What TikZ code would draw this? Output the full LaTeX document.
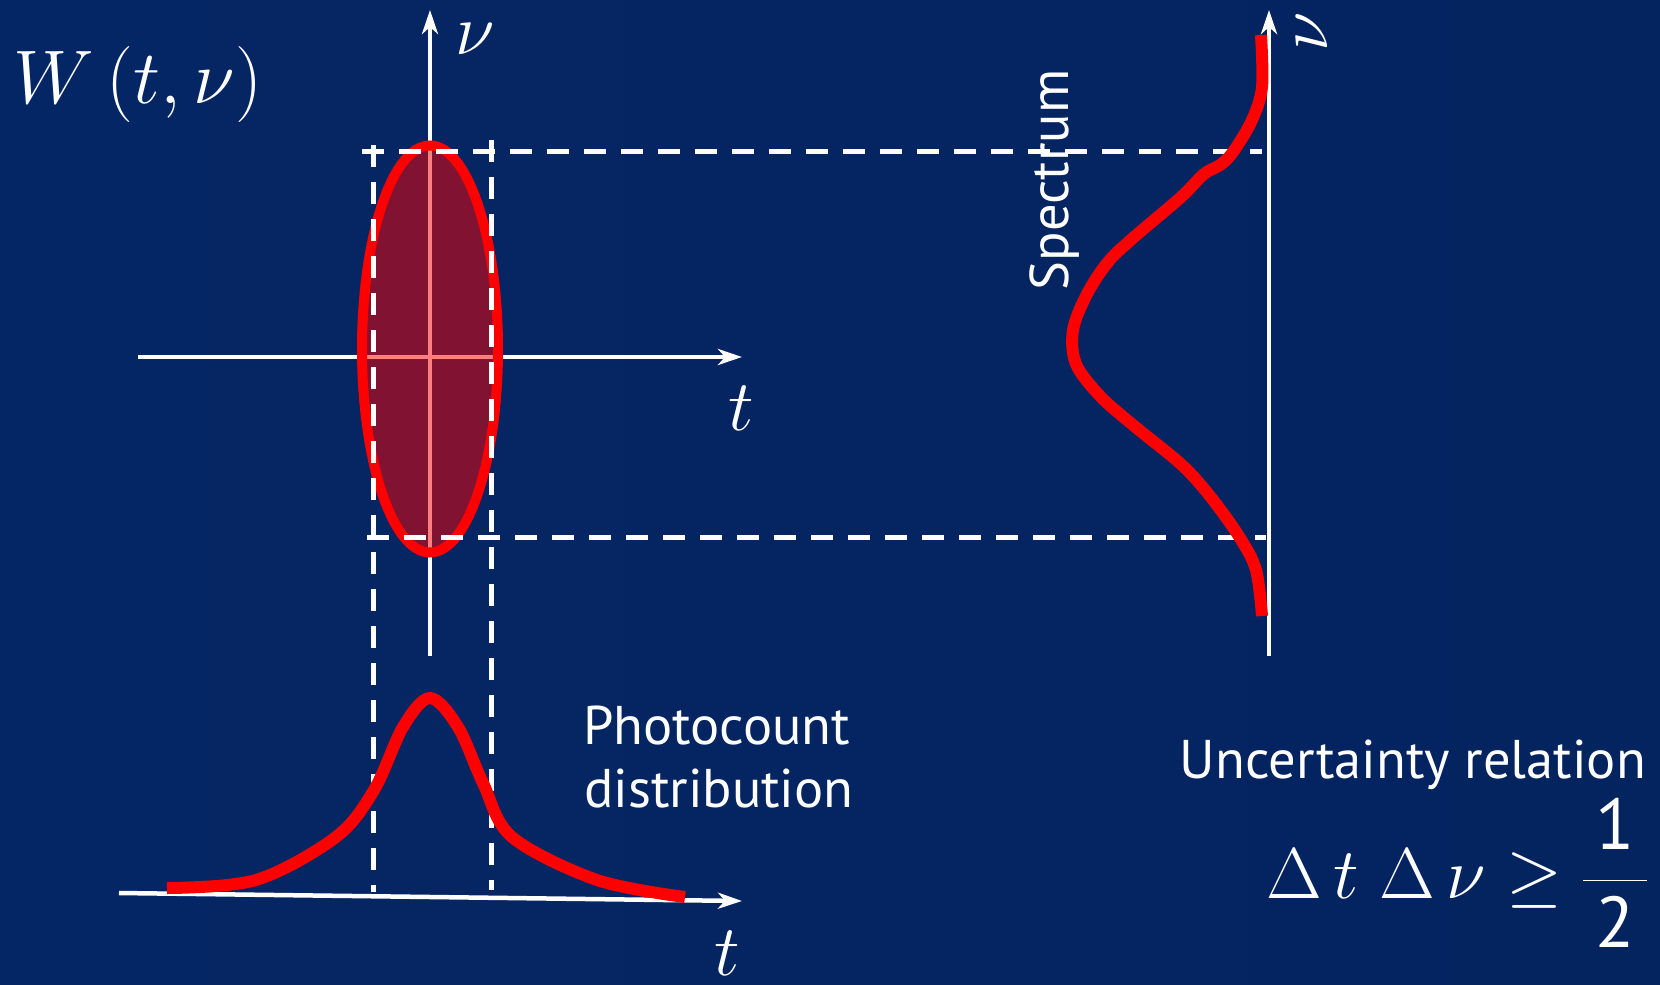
\RequirePackage{fix-cm}
\documentclass[tikz,border=0pt]{standalone}
\usepackage{amsmath}
\usepackage[no-math]{fontspec}
\newfontfamily\labelfont{PT Sans}
\usetikzlibrary{arrows.meta}
\definecolor{bgl}{RGB}{5,38,100}
\definecolor{bgm}{RGB}{1,27,76}
\definecolor{bgr}{RGB}{4,36,96}
\begin{document}
\begin{tikzpicture}[x=1pt,y=-1pt,
  axisline/.style={white, line width=4.5pt, -{Stealth[length=24pt,width=16pt,inset=7pt]}},
  guide/.style={white, line width=5pt, dash pattern=on 22pt off 15pt},
  curve/.style={red, line width=12pt},
  lbl/.style={text=white, font=\labelfont\fontsize{54.5}{60}\selectfont, inner sep=0pt},
  mth/.style={text=white, font=\fontsize{72}{80}\selectfont, inner sep=0pt}]
\shade[left color=bgl, middle color=bgm, right color=bgr] (0,0) rectangle (1660,985);
\useasboundingbox (0,0) rectangle (1660,985);

% coordinates
\coordinate (vbot) at (430,656);
\coordinate (vtop) at (430,10);
\coordinate (hleft) at (138,357);
\coordinate (hright) at (742,357);
\coordinate (bleft) at (119,893);
\coordinate (bright) at (742,901);
\coordinate (sbot) at (1269,656);
\coordinate (stop) at (1269,10);

% axes
\draw[axisline] (vbot) -- (vtop);
\draw[axisline] (hleft) -- (hright);
\draw[axisline] (bleft) -- (bright);
\draw[axisline] (sbot) -- (stop);

% Wigner ellipse
\filldraw[draw=red, line width=10pt, fill=red, fill opacity=0.5, draw opacity=1]
  (430,349) ellipse [x radius=68pt, y radius=203.5pt];

% dashed guides
\coordinate (lv1) at (373,145); \coordinate (lv2) at (373,892);
\coordinate (rv1) at (491,140); \coordinate (rv2) at (491,890);
\coordinate (th1) at (362,151); \coordinate (th2) at (1262,151);
\coordinate (bh1) at (367,537); \coordinate (bh2) at (1266,537);
\draw[guide] (lv1) -- (lv2);
\draw[guide] (rv1) -- (rv2);
\draw[guide] (th1) -- (th2);
\draw[guide] (bh1) -- (bh2);

% spectrum curve
\draw[curve] plot[smooth, tension=0.55] coordinates {
  (1261,35) (1262,87) (1252,120) (1233,152) (1220,165) (1204,174) (1180,198)
  (1133,238) (1108,262) (1087,294) (1073,330) (1076,364) (1100,396) (1133,425)
  (1183,466) (1213,500) (1240,538) (1256,570) (1262,616)};

% photocount curve
\draw[curve] plot[smooth, tension=0.55] coordinates {
  (167,888) (256,880) (336,837) (374,790) (403,727) (430,698) (458,727)
  (483,783) (512,837) (597,880) (685,897)};

% labels
\node[mth, anchor=base west, font=\fontsize{76}{84}\selectfont] (W) at (13,103) {$W\,(t,\nu)$};
\node[mth, anchor=base west] (nu1) at (455,54) {$\nu$};
\node[mth, anchor=base west] (t1) at (728,430) {$t$};
\node[mth, anchor=base] (t2) at (727,975) {$t$};
\node[mth, rotate=90] (nu2) at (1312,32) {$\nu$};
\node[lbl, rotate=90, anchor=base] (spec) at (1068,180) {Spectrum};
\node[lbl, anchor=base west] (pc1) at (583,744) {Photocount};
\node[lbl, anchor=base west] (pc2) at (584,807) {distribution};
\node[lbl, anchor=base east] (unc) at (1646,778) {Uncertainty relation};
\node[mth, anchor=base west] (rel) at (1266,898)
  {$\Delta\,t\;\Delta\,\nu \geq \dfrac{\mkern3mu\text{\labelfont 1}\mkern3mu}{\mkern3mu\text{\labelfont 2}\mkern3mu}$};
\end{tikzpicture}
\end{document}
